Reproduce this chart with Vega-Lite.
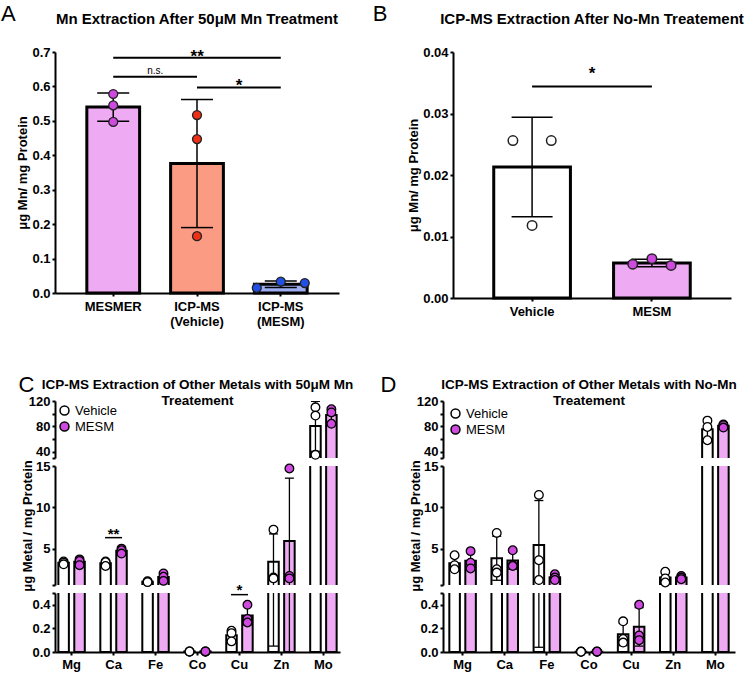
{
"$schema": "https://vega.github.io/schema/vega-lite/v6.json",
"background": "white",
"padding": {"left": 0, "top": 3, "right": 5, "bottom": 3},
"config": {
 "font": "Liberation Sans",
 "view": {"stroke": null},
 "axis": {"labelFont": "Liberation Sans", "labelFontSize": 13, "labelFontWeight": "bold", "labelColor": "black", "titleFont": "Liberation Sans", "titleFontSize": 13, "titleFontWeight": "bold", "titleColor": "black", "domainColor": "black", "domainWidth": 2, "tickColor": "black", "tickWidth": 2, "tickSize": 3, "grid": false, "labelPadding": 2},
 "title": {"font": "Liberation Sans", "fontSize": 15, "fontWeight": "bold", "color": "black"},
 "legend": {"labelFont": "Liberation Sans"}
},
"datasets": {
 "aBars": [
  {"group": "MESMER", "mean": 0.540, "lo": 0.499, "hi": 0.581},
  {"group": "ICP-MS (Vehicle)", "mean": 0.376, "lo": 0.190, "hi": 0.562},
  {"group": "ICP-MS (MESM)", "mean": 0.0257, "lo": 0.0162, "hi": 0.0351}
 ],
 "aPts": [
  {"group": "MESMER", "rep": 1, "value": 0.578}, {"group": "MESMER", "rep": 2, "value": 0.545}, {"group": "MESMER", "rep": 3, "value": 0.497},
  {"group": "ICP-MS (Vehicle)", "rep": 1, "value": 0.517}, {"group": "ICP-MS (Vehicle)", "rep": 2, "value": 0.447}, {"group": "ICP-MS (Vehicle)", "rep": 3, "value": 0.165},
  {"group": "ICP-MS (MESM)", "rep": 1, "value": 0.015}, {"group": "ICP-MS (MESM)", "rep": 2, "value": 0.033}, {"group": "ICP-MS (MESM)", "rep": 3, "value": 0.029}
 ],
 "aSig": [
  {"from": "MESMER", "to": "ICP-MS (MESM)", "y": 0.683, "label": "**"},
  {"from": "MESMER", "to": "ICP-MS (Vehicle)", "y": 0.628, "label": "n.s."},
  {"from": "ICP-MS (Vehicle)", "to": "ICP-MS (MESM)", "y": 0.597, "label": "*"}
 ],
 "bBars": [
  {"group": "Vehicle", "mean": 0.0213, "lo": 0.0132, "hi": 0.0294},
  {"group": "MESM", "mean": 0.0057, "lo": 0.0051, "hi": 0.0063}
 ],
 "bPts": [
  {"group": "Vehicle", "rep": 1, "value": 0.0256}, {"group": "Vehicle", "rep": 2, "value": 0.0118}, {"group": "Vehicle", "rep": 3, "value": 0.0256},
  {"group": "MESM", "rep": 1, "value": 0.0055}, {"group": "MESM", "rep": 2, "value": 0.0064}, {"group": "MESM", "rep": 3, "value": 0.0053}
 ],
 "bSig": [{"from": "Vehicle", "to": "MESM", "y": 0.0344, "label": "*"}],
 "cBars": [
  {"metal": "Mg", "group": "Vehicle", "mean": 3.28, "lo": 3.10, "hi": 3.46},
  {"metal": "Mg", "group": "MESM", "mean": 3.40, "lo": 3.04, "hi": 3.76},
  {"metal": "Ca", "group": "Vehicle", "mean": 3.23, "lo": 2.94, "hi": 3.52},
  {"metal": "Ca", "group": "MESM", "mean": 4.73, "lo": 4.43, "hi": 5.04},
  {"metal": "Fe", "group": "Vehicle", "mean": 1.00, "lo": 0.95, "hi": 1.05},
  {"metal": "Fe", "group": "MESM", "mean": 1.57, "lo": 1.12, "hi": 2.02},
  {"metal": "Co", "group": "Vehicle", "mean": 0.004, "lo": 0.003, "hi": 0.005},
  {"metal": "Co", "group": "MESM", "mean": 0.004, "lo": 0.003, "hi": 0.005},
  {"metal": "Cu", "group": "Vehicle", "mean": 0.143, "lo": 0.096, "hi": 0.190},
  {"metal": "Cu", "group": "MESM", "mean": 0.310, "lo": 0.231, "hi": 0.389},
  {"metal": "Zn", "group": "Vehicle", "mean": 3.40, "lo": 0.05, "hi": 6.78},
  {"metal": "Zn", "group": "MESM", "mean": 5.93, "lo": -1.67, "hi": 13.53},
  {"metal": "Mo", "group": "Vehicle", "mean": 80.7, "lo": 40.6, "hi": 119.5},
  {"metal": "Mo", "group": "MESM", "mean": 97.7, "lo": 85.6, "hi": 109.8}
 ],
 "cPts": [
  {"metal": "Mg", "group": "Vehicle", "value": 3.45}, {"metal": "Mg", "group": "Vehicle", "value": 3.3}, {"metal": "Mg", "group": "Vehicle", "value": 3.1},
  {"metal": "Mg", "group": "MESM", "value": 3.7}, {"metal": "Mg", "group": "MESM", "value": 3.5}, {"metal": "Mg", "group": "MESM", "value": 3.0},
  {"metal": "Ca", "group": "Vehicle", "value": 3.45}, {"metal": "Ca", "group": "Vehicle", "value": 3.35}, {"metal": "Ca", "group": "Vehicle", "value": 2.9},
  {"metal": "Ca", "group": "MESM", "value": 5.0}, {"metal": "Ca", "group": "MESM", "value": 4.8}, {"metal": "Ca", "group": "MESM", "value": 4.4},
  {"metal": "Fe", "group": "Vehicle", "value": 1.05}, {"metal": "Fe", "group": "Vehicle", "value": 1.0}, {"metal": "Fe", "group": "Vehicle", "value": 0.95},
  {"metal": "Fe", "group": "MESM", "value": 2.0}, {"metal": "Fe", "group": "MESM", "value": 1.6}, {"metal": "Fe", "group": "MESM", "value": 1.1},
  {"metal": "Co", "group": "Vehicle", "value": 0.004}, {"metal": "Co", "group": "Vehicle", "value": 0.003}, {"metal": "Co", "group": "Vehicle", "value": 0.004},
  {"metal": "Co", "group": "MESM", "value": 0.003}, {"metal": "Co", "group": "MESM", "value": 0.004}, {"metal": "Co", "group": "MESM", "value": 0.005},
  {"metal": "Cu", "group": "Vehicle", "value": 0.18}, {"metal": "Cu", "group": "Vehicle", "value": 0.16}, {"metal": "Cu", "group": "Vehicle", "value": 0.09},
  {"metal": "Cu", "group": "MESM", "value": 0.40}, {"metal": "Cu", "group": "MESM", "value": 0.28}, {"metal": "Cu", "group": "MESM", "value": 0.25},
  {"metal": "Zn", "group": "Vehicle", "value": 7.3}, {"metal": "Zn", "group": "Vehicle", "value": 1.5}, {"metal": "Zn", "group": "Vehicle", "value": 1.4},
  {"metal": "Zn", "group": "MESM", "value": 14.7}, {"metal": "Zn", "group": "MESM", "value": 1.7}, {"metal": "Zn", "group": "MESM", "value": 1.4},
  {"metal": "Mo", "group": "Vehicle", "value": 110}, {"metal": "Mo", "group": "Vehicle", "value": 97}, {"metal": "Mo", "group": "Vehicle", "value": 35},
  {"metal": "Mo", "group": "MESM", "value": 107}, {"metal": "Mo", "group": "MESM", "value": 102}, {"metal": "Mo", "group": "MESM", "value": 84}
 ],
 "cSigMid": [{"metal": "Ca", "y": 6.33, "label": "**"}],
 "cSigBot": [{"metal": "Cu", "y": 0.486, "label": "*"}],
 "dBars": [
  {"metal": "Mg", "group": "Vehicle", "mean": 3.23, "lo": 2.36, "hi": 4.10},
  {"metal": "Mg", "group": "MESM", "mean": 3.53, "lo": 2.46, "hi": 4.60},
  {"metal": "Ca", "group": "Vehicle", "mean": 3.83, "lo": 1.17, "hi": 6.50},
  {"metal": "Ca", "group": "MESM", "mean": 3.57, "lo": 2.50, "hi": 4.64},
  {"metal": "Fe", "group": "Vehicle", "mean": 5.43, "lo": 0.04, "hi": 10.82},
  {"metal": "Fe", "group": "MESM", "mean": 1.53, "lo": 1.18, "hi": 1.88},
  {"metal": "Co", "group": "Vehicle", "mean": 0.003, "lo": 0.002, "hi": 0.004},
  {"metal": "Co", "group": "MESM", "mean": 0.003, "lo": 0.003, "hi": 0.004},
  {"metal": "Cu", "group": "Vehicle", "mean": 0.150, "lo": 0.054, "hi": 0.246},
  {"metal": "Cu", "group": "MESM", "mean": 0.213, "lo": 0.050, "hi": 0.376},
  {"metal": "Zn", "group": "Vehicle", "mean": 1.50, "lo": 0.84, "hi": 2.16},
  {"metal": "Zn", "group": "MESM", "mean": 1.50, "lo": 1.30, "hi": 1.70},
  {"metal": "Mo", "group": "Vehicle", "mean": 75.3, "lo": 59.5, "hi": 91.1},
  {"metal": "Mo", "group": "MESM", "mean": 81.0, "lo": 78.4, "hi": 83.6}
 ],
 "dPts": [
  {"metal": "Mg", "group": "Vehicle", "value": 4.2}, {"metal": "Mg", "group": "Vehicle", "value": 3.0}, {"metal": "Mg", "group": "Vehicle", "value": 2.5},
  {"metal": "Mg", "group": "MESM", "value": 4.7}, {"metal": "Mg", "group": "MESM", "value": 3.3}, {"metal": "Mg", "group": "MESM", "value": 2.6},
  {"metal": "Ca", "group": "Vehicle", "value": 6.9}, {"metal": "Ca", "group": "Vehicle", "value": 2.5}, {"metal": "Ca", "group": "Vehicle", "value": 2.1},
  {"metal": "Ca", "group": "MESM", "value": 4.8}, {"metal": "Ca", "group": "MESM", "value": 3.0}, {"metal": "Ca", "group": "MESM", "value": 2.9},
  {"metal": "Fe", "group": "Vehicle", "value": 11.5}, {"metal": "Fe", "group": "Vehicle", "value": 3.6}, {"metal": "Fe", "group": "Vehicle", "value": 1.2},
  {"metal": "Fe", "group": "MESM", "value": 1.9}, {"metal": "Fe", "group": "MESM", "value": 1.5}, {"metal": "Fe", "group": "MESM", "value": 1.2},
  {"metal": "Co", "group": "Vehicle", "value": 0.004}, {"metal": "Co", "group": "Vehicle", "value": 0.003}, {"metal": "Co", "group": "Vehicle", "value": 0.002},
  {"metal": "Co", "group": "MESM", "value": 0.003}, {"metal": "Co", "group": "MESM", "value": 0.003}, {"metal": "Co", "group": "MESM", "value": 0.004},
  {"metal": "Cu", "group": "Vehicle", "value": 0.26}, {"metal": "Cu", "group": "Vehicle", "value": 0.11}, {"metal": "Cu", "group": "Vehicle", "value": 0.08},
  {"metal": "Cu", "group": "MESM", "value": 0.40}, {"metal": "Cu", "group": "MESM", "value": 0.14}, {"metal": "Cu", "group": "MESM", "value": 0.10},
  {"metal": "Zn", "group": "Vehicle", "value": 2.2}, {"metal": "Zn", "group": "Vehicle", "value": 1.4}, {"metal": "Zn", "group": "Vehicle", "value": 0.9},
  {"metal": "Zn", "group": "MESM", "value": 1.7}, {"metal": "Zn", "group": "MESM", "value": 1.5}, {"metal": "Zn", "group": "MESM", "value": 1.3},
  {"metal": "Mo", "group": "Vehicle", "value": 89}, {"metal": "Mo", "group": "Vehicle", "value": 79}, {"metal": "Mo", "group": "Vehicle", "value": 58},
  {"metal": "Mo", "group": "MESM", "value": 83}, {"metal": "Mo", "group": "MESM", "value": 82}, {"metal": "Mo", "group": "MESM", "value": 78}
 ]
},
"spacing": 45,
"resolve": {"scale": {"color": "independent", "fill": "independent"}, "legend": {"color": "independent", "fill": "independent"}},
"vconcat": [
 {
  "hconcat": [
   {
    "title": {"text": "A", "anchor": "start", "frame": "bounds", "fontSize": 22, "fontWeight": "normal", "offset": -14, "dx": -16},
    "vconcat": [{
     "width": 284, "height": 241,
     "title": {"text": "Mn Extraction After 50μM Mn Treatment", "offset": 19},
     "resolve": {"scale": {"xOffset": "independent"}},
     "layer": [
      {"data": {"name": "aBars"}, "mark": {"type": "bar", "stroke": "black", "strokeWidth": 3, "width": {"band": 1}},
       "encoding": {
        "x": {"field": "group", "type": "nominal", "scale": {"domain": ["MESMER", "ICP-MS (Vehicle)", "ICP-MS (MESM)"], "paddingInner": 0.37, "paddingOuter": 0.38}, "axis": {"title": null, "labelAngle": 0, "labelExpr": "split(datum.label, ' ')", "labelPadding": 4, "labelLineHeight": 15}},
        "y": {"field": "mean", "type": "quantitative", "scale": {"domain": [0, 0.7], "nice": false}, "axis": {"values": [0, 0.1, 0.2, 0.3, 0.4, 0.5, 0.6, 0.7], "format": ".1f", "title": "μg Mn/ mg Protein", "titlePadding": 2}},
        "color": {"field": "group", "type": "nominal", "scale": {"domain": ["MESMER", "ICP-MS (Vehicle)", "ICP-MS (MESM)"], "range": ["#EEAAF3", "#FC9B84", "#9DAEF2"]}, "legend": null}
       }},
      {"data": {"name": "aBars"}, "mark": {"type": "rule", "color": "black", "strokeWidth": 1.5},
       "encoding": {
        "x": {"field": "group", "type": "nominal", "scale": {"domain": ["MESMER", "ICP-MS (Vehicle)", "ICP-MS (MESM)"], "paddingInner": 0.37, "paddingOuter": 0.38}, "axis": {"title": null, "labelAngle": 0, "labelExpr": "split(datum.label, ' ')", "labelPadding": 4, "labelLineHeight": 15}},
        "y": {"field": "lo", "type": "quantitative", "scale": {"domain": [0, 0.7], "nice": false}, "axis": {"values": [0, 0.1, 0.2, 0.3, 0.4, 0.5, 0.6, 0.7], "format": ".1f", "title": "μg Mn/ mg Protein", "titlePadding": 2}},
        "y2": {"field": "hi"}
       }},
      {"data": {"name": "aBars"}, "mark": {"type": "tick", "color": "black", "thickness": 1.5, "size": 32, "opacity": 1},
       "encoding": {
        "x": {"field": "group", "type": "nominal", "scale": {"domain": ["MESMER", "ICP-MS (Vehicle)", "ICP-MS (MESM)"], "paddingInner": 0.37, "paddingOuter": 0.38}, "axis": {"title": null, "labelAngle": 0, "labelExpr": "split(datum.label, ' ')", "labelPadding": 4, "labelLineHeight": 15}},
        "y": {"field": "lo", "type": "quantitative", "scale": {"domain": [0, 0.7], "nice": false}, "axis": {"values": [0, 0.1, 0.2, 0.3, 0.4, 0.5, 0.6, 0.7], "format": ".1f", "title": "μg Mn/ mg Protein", "titlePadding": 2}}
       }},
      {"data": {"name": "aBars"}, "mark": {"type": "tick", "color": "black", "thickness": 1.5, "size": 32, "opacity": 1},
       "encoding": {
        "x": {"field": "group", "type": "nominal", "scale": {"domain": ["MESMER", "ICP-MS (Vehicle)", "ICP-MS (MESM)"], "paddingInner": 0.37, "paddingOuter": 0.38}, "axis": {"title": null, "labelAngle": 0, "labelExpr": "split(datum.label, ' ')", "labelPadding": 4, "labelLineHeight": 15}},
        "y": {"field": "hi", "type": "quantitative", "scale": {"domain": [0, 0.7], "nice": false}, "axis": {"values": [0, 0.1, 0.2, 0.3, 0.4, 0.5, 0.6, 0.7], "format": ".1f", "title": "μg Mn/ mg Protein", "titlePadding": 2}}
       }},
      {"data": {"name": "aPts"}, "transform": [{"filter": "datum.group != 'ICP-MS (MESM)'"}], "mark": {"type": "circle", "size": 80, "stroke": "#222222", "strokeWidth": 1.3, "opacity": 1},
       "encoding": {
        "x": {"field": "group", "type": "nominal", "scale": {"domain": ["MESMER", "ICP-MS (Vehicle)", "ICP-MS (MESM)"], "paddingInner": 0.37, "paddingOuter": 0.38}, "axis": {"title": null, "labelAngle": 0, "labelExpr": "split(datum.label, ' ')", "labelPadding": 4, "labelLineHeight": 15}},
        "y": {"field": "value", "type": "quantitative", "scale": {"domain": [0, 0.7], "nice": false}, "axis": {"values": [0, 0.1, 0.2, 0.3, 0.4, 0.5, 0.6, 0.7], "format": ".1f", "title": "μg Mn/ mg Protein", "titlePadding": 2}},
        "fill": {"field": "group", "type": "nominal", "scale": {"domain": ["MESMER", "ICP-MS (Vehicle)", "ICP-MS (MESM)"], "range": ["#CF4ADF", "#EE3018", "#2150E6"]}, "legend": null}
       }},
      {"data": {"name": "aPts"}, "transform": [{"filter": "datum.group == 'ICP-MS (MESM)'"}], "mark": {"type": "circle", "size": 80, "stroke": "#222222", "strokeWidth": 1.3, "opacity": 1},
       "encoding": {
        "x": {"field": "group", "type": "nominal", "scale": {"domain": ["MESMER", "ICP-MS (Vehicle)", "ICP-MS (MESM)"], "paddingInner": 0.37, "paddingOuter": 0.38}, "axis": {"title": null, "labelAngle": 0, "labelExpr": "split(datum.label, ' ')", "labelPadding": 4, "labelLineHeight": 15}},
        "xOffset": {"field": "rep", "type": "nominal", "scale": {"type": "point", "padding": 0.1}},
        "y": {"field": "value", "type": "quantitative", "scale": {"domain": [0, 0.7], "nice": false}, "axis": {"values": [0, 0.1, 0.2, 0.3, 0.4, 0.5, 0.6, 0.7], "format": ".1f", "title": "μg Mn/ mg Protein", "titlePadding": 2}},
        "fill": {"field": "group", "type": "nominal", "scale": {"domain": ["MESMER", "ICP-MS (Vehicle)", "ICP-MS (MESM)"], "range": ["#CF4ADF", "#EE3018", "#2150E6"]}, "legend": null}
       }},
      {"data": {"name": "aSig"}, "mark": {"type": "rule", "color": "black", "strokeWidth": 2},
       "encoding": {
        "x": {"field": "from", "type": "nominal", "scale": {"domain": ["MESMER", "ICP-MS (Vehicle)", "ICP-MS (MESM)"], "paddingInner": 0.37, "paddingOuter": 0.38}, "axis": {"title": null, "labelAngle": 0, "labelExpr": "split(datum.label, ' ')", "labelPadding": 4, "labelLineHeight": 15}},
        "x2": {"field": "to"},
        "y": {"field": "y", "type": "quantitative", "scale": {"domain": [0, 0.7], "nice": false}, "axis": {"values": [0, 0.1, 0.2, 0.3, 0.4, 0.5, 0.6, 0.7], "format": ".1f", "title": "μg Mn/ mg Protein", "titlePadding": 2}}
       }},
      {"data": {"name": "aSig"}, "transform": [{"filter": "datum.label == '**'"}], "mark": {"type": "text", "fontSize": 17, "fontWeight": "bold", "baseline": "alphabetic", "dx": 84, "dy": 4},
       "encoding": {
        "x": {"field": "from", "type": "nominal", "scale": {"domain": ["MESMER", "ICP-MS (Vehicle)", "ICP-MS (MESM)"], "paddingInner": 0.37, "paddingOuter": 0.38}, "axis": {"title": null, "labelAngle": 0, "labelExpr": "split(datum.label, ' ')", "labelPadding": 4, "labelLineHeight": 15}},
        "y": {"field": "y", "type": "quantitative", "scale": {"domain": [0, 0.7], "nice": false}, "axis": {"values": [0, 0.1, 0.2, 0.3, 0.4, 0.5, 0.6, 0.7], "format": ".1f", "title": "μg Mn/ mg Protein", "titlePadding": 2}},
        "text": {"field": "label"}
       }},
      {"data": {"name": "aSig"}, "transform": [{"filter": "datum.label == '*'"}], "mark": {"type": "text", "fontSize": 17, "fontWeight": "bold", "baseline": "alphabetic", "dx": 42, "dy": 4},
       "encoding": {
        "x": {"field": "from", "type": "nominal", "scale": {"domain": ["MESMER", "ICP-MS (Vehicle)", "ICP-MS (MESM)"], "paddingInner": 0.37, "paddingOuter": 0.38}, "axis": {"title": null, "labelAngle": 0, "labelExpr": "split(datum.label, ' ')", "labelPadding": 4, "labelLineHeight": 15}},
        "y": {"field": "y", "type": "quantitative", "scale": {"domain": [0, 0.7], "nice": false}, "axis": {"values": [0, 0.1, 0.2, 0.3, 0.4, 0.5, 0.6, 0.7], "format": ".1f", "title": "μg Mn/ mg Protein", "titlePadding": 2}},
        "text": {"field": "label"}
       }},
      {"data": {"name": "aSig"}, "transform": [{"filter": "datum.label == 'n.s.'"}], "mark": {"type": "text", "fontSize": 10, "baseline": "alphabetic", "dx": 42, "dy": -3},
       "encoding": {
        "x": {"field": "from", "type": "nominal", "scale": {"domain": ["MESMER", "ICP-MS (Vehicle)", "ICP-MS (MESM)"], "paddingInner": 0.37, "paddingOuter": 0.38}, "axis": {"title": null, "labelAngle": 0, "labelExpr": "split(datum.label, ' ')", "labelPadding": 4, "labelLineHeight": 15}},
        "y": {"field": "y", "type": "quantitative", "scale": {"domain": [0, 0.7], "nice": false}, "axis": {"values": [0, 0.1, 0.2, 0.3, 0.4, 0.5, 0.6, 0.7], "format": ".1f", "title": "μg Mn/ mg Protein", "titlePadding": 2}},
        "text": {"field": "label"}
       }}
     ]
    }]
   },
   {
    "title": {"text": "B", "anchor": "start", "frame": "bounds", "fontSize": 22, "fontWeight": "normal", "offset": -14, "dx": -35},
    "vconcat": [{
     "width": 278, "height": 246,
     "title": {"text": "ICP-MS Extraction After No-Mn Treatement", "offset": 19},
     "resolve": {"scale": {"xOffset": "independent"}},
     "layer": [
      {"data": {"name": "bBars"}, "mark": {"type": "bar", "stroke": "black", "strokeWidth": 3, "width": {"band": 1}},
       "encoding": {
        "x": {"field": "group", "type": "nominal", "scale": {"domain": ["Vehicle", "MESM"], "paddingInner": 0.36, "paddingOuter": 0.34}, "axis": {"title": null, "labelAngle": 0, "labelPadding": 4}},
        "y": {"field": "mean", "type": "quantitative", "scale": {"domain": [0, 0.04], "nice": false}, "axis": {"values": [0, 0.01, 0.02, 0.03, 0.04], "format": ".2f", "title": "μg Mn/ mg Protein", "titlePadding": 2}},
        "color": {"field": "group", "type": "nominal", "scale": {"domain": ["Vehicle", "MESM"], "range": ["white", "#EEAAF3"]}, "legend": null}
       }},
      {"data": {"name": "bBars"}, "mark": {"type": "rule", "color": "black", "strokeWidth": 1.5},
       "encoding": {
        "x": {"field": "group", "type": "nominal", "scale": {"domain": ["Vehicle", "MESM"], "paddingInner": 0.36, "paddingOuter": 0.34}, "axis": {"title": null, "labelAngle": 0, "labelPadding": 4}},
        "y": {"field": "lo", "type": "quantitative", "scale": {"domain": [0, 0.04], "nice": false}, "axis": {"values": [0, 0.01, 0.02, 0.03, 0.04], "format": ".2f", "title": "μg Mn/ mg Protein", "titlePadding": 2}},
        "y2": {"field": "hi"}
       }},
      {"data": {"name": "bBars"}, "mark": {"type": "tick", "color": "black", "thickness": 1.5, "size": 41, "opacity": 1},
       "encoding": {
        "x": {"field": "group", "type": "nominal", "scale": {"domain": ["Vehicle", "MESM"], "paddingInner": 0.36, "paddingOuter": 0.34}, "axis": {"title": null, "labelAngle": 0, "labelPadding": 4}},
        "y": {"field": "lo", "type": "quantitative", "scale": {"domain": [0, 0.04], "nice": false}, "axis": {"values": [0, 0.01, 0.02, 0.03, 0.04], "format": ".2f", "title": "μg Mn/ mg Protein", "titlePadding": 2}}
       }},
      {"data": {"name": "bBars"}, "mark": {"type": "tick", "color": "black", "thickness": 1.5, "size": 41, "opacity": 1},
       "encoding": {
        "x": {"field": "group", "type": "nominal", "scale": {"domain": ["Vehicle", "MESM"], "paddingInner": 0.36, "paddingOuter": 0.34}, "axis": {"title": null, "labelAngle": 0, "labelPadding": 4}},
        "y": {"field": "hi", "type": "quantitative", "scale": {"domain": [0, 0.04], "nice": false}, "axis": {"values": [0, 0.01, 0.02, 0.03, 0.04], "format": ".2f", "title": "μg Mn/ mg Protein", "titlePadding": 2}}
       }},
      {"data": {"name": "bPts"}, "mark": {"type": "circle", "size": 90, "stroke": "#222222", "strokeWidth": 1.5, "opacity": 1},
       "encoding": {
        "x": {"field": "group", "type": "nominal", "scale": {"domain": ["Vehicle", "MESM"], "paddingInner": 0.36, "paddingOuter": 0.34}, "axis": {"title": null, "labelAngle": 0, "labelPadding": 4}},
        "xOffset": {"field": "rep", "type": "nominal", "scale": {"type": "point", "padding": 1.5}},
        "y": {"field": "value", "type": "quantitative", "scale": {"domain": [0, 0.04], "nice": false}, "axis": {"values": [0, 0.01, 0.02, 0.03, 0.04], "format": ".2f", "title": "μg Mn/ mg Protein", "titlePadding": 2}},
        "fill": {"field": "group", "type": "nominal", "scale": {"domain": ["Vehicle", "MESM"], "range": ["white", "#CF4ADF"]}, "legend": null}
       }},
      {"data": {"name": "bSig"}, "mark": {"type": "rule", "color": "black", "strokeWidth": 2},
       "encoding": {
        "x": {"field": "from", "type": "nominal", "scale": {"domain": ["Vehicle", "MESM"], "paddingInner": 0.36, "paddingOuter": 0.34}, "axis": {"title": null, "labelAngle": 0, "labelPadding": 4}},
        "x2": {"field": "to"},
        "y": {"field": "y", "type": "quantitative", "scale": {"domain": [0, 0.04], "nice": false}, "axis": {"values": [0, 0.01, 0.02, 0.03, 0.04], "format": ".2f", "title": "μg Mn/ mg Protein", "titlePadding": 2}}
       }},
      {"data": {"name": "bSig"}, "mark": {"type": "text", "fontSize": 17, "fontWeight": "bold", "baseline": "alphabetic", "dx": 60, "dy": -7},
       "encoding": {
        "x": {"field": "from", "type": "nominal", "scale": {"domain": ["Vehicle", "MESM"], "paddingInner": 0.36, "paddingOuter": 0.34}, "axis": {"title": null, "labelAngle": 0, "labelPadding": 4}},
        "y": {"field": "y", "type": "quantitative", "scale": {"domain": [0, 0.04], "nice": false}, "axis": {"values": [0, 0.01, 0.02, 0.03, 0.04], "format": ".2f", "title": "μg Mn/ mg Protein", "titlePadding": 2}},
        "text": {"field": "label"}
       }}
     ]
    }]
   }
  ],
  "spacing": 33,
  "resolve": {"scale": {"color": "independent", "fill": "independent"}, "legend": {"color": "independent", "fill": "independent"}}
 },
 {
  "hconcat": [
   {
    "title": {"text": "C", "anchor": "start", "frame": "bounds", "fontSize": 22, "fontWeight": "normal", "offset": -19, "dx": -3},
    "bounds": "flush",
    "spacing": 8,
    "resolve": {"scale": {"color": "independent", "fill": "independent", "x": "independent", "xOffset": "independent", "y": "independent"}, "legend": {"color": "independent", "fill": "independent"}},
    "vconcat": [
     {
      "width": 285, "height": 57,
      "title": {"text": ["ICP-MS Extraction of Other Metals with 50μM Mn", "Treatement"], "fontSize": 13.5, "lineHeight": 16, "offset": -12},
      "resolve": {"scale": {"fill": "independent"}, "legend": {"fill": "independent"}},
      "layer": [
       {"data": {"name": "cBars"}, "mark": {"type": "bar", "stroke": "black", "strokeWidth": 2, "clip": true},
        "encoding": {
         "x": {"field": "metal", "type": "nominal", "scale": {"domain": ["Mg", "Ca", "Fe", "Co", "Cu", "Zn", "Mo"], "paddingInner": 0.37, "paddingOuter": 0.08}, "axis": null},
         "xOffset": {"field": "group", "type": "nominal", "scale": {"domain": ["Vehicle", "MESM"], "paddingInner": 0.34, "paddingOuter": 0}},
         "y": {"field": "mean", "type": "quantitative", "scale": {"domain": [30, 120], "nice": false, "zero": false}, "axis": {"values": [30, 40, 60, 80, 100, 120], "labelExpr": "datum.value == 30 ? '' : datum.label", "title": null}},
         "y2": {"datum": 0},
         "fill": {"field": "group", "type": "nominal", "scale": {"domain": ["Vehicle", "MESM"], "range": ["white", "#EEAAF3"]}, "legend": null}
        }},
       {"data": {"name": "cBars"}, "mark": {"type": "rule", "color": "black", "strokeWidth": 1.3, "clip": true},
        "encoding": {
         "x": {"field": "metal", "type": "nominal", "scale": {"domain": ["Mg", "Ca", "Fe", "Co", "Cu", "Zn", "Mo"], "paddingInner": 0.37, "paddingOuter": 0.08}, "axis": null},
         "xOffset": {"field": "group", "type": "nominal", "scale": {"domain": ["Vehicle", "MESM"], "paddingInner": 0.34, "paddingOuter": 0}},
         "y": {"field": "lo", "type": "quantitative", "scale": {"domain": [30, 120], "nice": false, "zero": false}, "axis": {"values": [30, 40, 60, 80, 100, 120], "labelExpr": "datum.value == 30 ? '' : datum.label", "title": null}},
         "y2": {"field": "hi"}
        }},
       {"data": {"name": "cBars"}, "mark": {"type": "tick", "color": "black", "thickness": 1.3, "size": 9, "opacity": 1, "clip": true},
        "encoding": {
         "x": {"field": "metal", "type": "nominal", "scale": {"domain": ["Mg", "Ca", "Fe", "Co", "Cu", "Zn", "Mo"], "paddingInner": 0.37, "paddingOuter": 0.08}, "axis": null},
         "xOffset": {"field": "group", "type": "nominal", "scale": {"domain": ["Vehicle", "MESM"], "paddingInner": 0.34, "paddingOuter": 0}},
         "y": {"field": "lo", "type": "quantitative", "scale": {"domain": [30, 120], "nice": false, "zero": false}, "axis": {"values": [30, 40, 60, 80, 100, 120], "labelExpr": "datum.value == 30 ? '' : datum.label", "title": null}}
        }},
       {"data": {"name": "cBars"}, "mark": {"type": "tick", "color": "black", "thickness": 1.3, "size": 9, "opacity": 1, "clip": true},
        "encoding": {
         "x": {"field": "metal", "type": "nominal", "scale": {"domain": ["Mg", "Ca", "Fe", "Co", "Cu", "Zn", "Mo"], "paddingInner": 0.37, "paddingOuter": 0.08}, "axis": null},
         "xOffset": {"field": "group", "type": "nominal", "scale": {"domain": ["Vehicle", "MESM"], "paddingInner": 0.34, "paddingOuter": 0}},
         "y": {"field": "hi", "type": "quantitative", "scale": {"domain": [30, 120], "nice": false, "zero": false}, "axis": {"values": [30, 40, 60, 80, 100, 120], "labelExpr": "datum.value == 30 ? '' : datum.label", "title": null}}
        }},
       {"data": {"name": "cPts"}, "transform": [{"filter": "datum.value >= 30"}], "mark": {"type": "circle", "size": 75, "stroke": "black", "strokeWidth": 1.3, "opacity": 1},
        "encoding": {
         "x": {"field": "metal", "type": "nominal", "scale": {"domain": ["Mg", "Ca", "Fe", "Co", "Cu", "Zn", "Mo"], "paddingInner": 0.37, "paddingOuter": 0.08}, "axis": null},
         "xOffset": {"field": "group", "type": "nominal", "scale": {"domain": ["Vehicle", "MESM"], "paddingInner": 0.34, "paddingOuter": 0}},
         "y": {"field": "value", "type": "quantitative", "scale": {"domain": [30, 120], "nice": false, "zero": false}, "axis": {"values": [30, 40, 60, 80, 100, 120], "labelExpr": "datum.value == 30 ? '' : datum.label", "title": null}},
         "fill": {"field": "group", "type": "nominal", "scale": {"domain": ["Vehicle", "MESM"], "range": ["white", "#CF4ADF"]}, "legend": {"orient": "top-left", "offset": 3, "title": null, "labelFontSize": 13, "labelFontWeight": "normal", "labelColor": "black", "symbolType": "circle", "symbolSize": 80, "symbolStrokeColor": "black", "symbolStrokeWidth": 1.5, "rowPadding": 1}}
        }}
      ]
     },
     {
      "width": 285, "height": 119,
      "layer": [
       {"data": {"name": "cBars"}, "mark": {"type": "bar", "stroke": "black", "strokeWidth": 2, "clip": true},
        "encoding": {
         "x": {"field": "metal", "type": "nominal", "scale": {"domain": ["Mg", "Ca", "Fe", "Co", "Cu", "Zn", "Mo"], "paddingInner": 0.37, "paddingOuter": 0.08}, "axis": null},
         "xOffset": {"field": "group", "type": "nominal", "scale": {"domain": ["Vehicle", "MESM"], "paddingInner": 0.34, "paddingOuter": 0}},
         "y": {"field": "mean", "type": "quantitative", "scale": {"domain": [0.6, 15], "nice": false, "zero": false}, "axis": {"values": [0.6, 5, 10, 15], "labelExpr": "datum.value < 1 ? '' : datum.label", "title": "μg Metal / mg Protein", "titlePadding": 1}},
         "y2": {"datum": 0},
         "color": {"field": "group", "type": "nominal", "scale": {"domain": ["Vehicle", "MESM"], "range": ["white", "#EEAAF3"]}, "legend": null}
        }},
       {"data": {"name": "cBars"}, "mark": {"type": "rule", "color": "black", "strokeWidth": 1.3, "clip": true},
        "encoding": {
         "x": {"field": "metal", "type": "nominal", "scale": {"domain": ["Mg", "Ca", "Fe", "Co", "Cu", "Zn", "Mo"], "paddingInner": 0.37, "paddingOuter": 0.08}, "axis": null},
         "xOffset": {"field": "group", "type": "nominal", "scale": {"domain": ["Vehicle", "MESM"], "paddingInner": 0.34, "paddingOuter": 0}},
         "y": {"field": "lo", "type": "quantitative", "scale": {"domain": [0.6, 15], "nice": false, "zero": false}, "axis": {"values": [0.6, 5, 10, 15], "labelExpr": "datum.value < 1 ? '' : datum.label", "title": "μg Metal / mg Protein", "titlePadding": 1}},
         "y2": {"field": "hi"}
        }},
       {"data": {"name": "cBars"}, "mark": {"type": "tick", "color": "black", "thickness": 1.3, "size": 9, "opacity": 1, "clip": true},
        "encoding": {
         "x": {"field": "metal", "type": "nominal", "scale": {"domain": ["Mg", "Ca", "Fe", "Co", "Cu", "Zn", "Mo"], "paddingInner": 0.37, "paddingOuter": 0.08}, "axis": null},
         "xOffset": {"field": "group", "type": "nominal", "scale": {"domain": ["Vehicle", "MESM"], "paddingInner": 0.34, "paddingOuter": 0}},
         "y": {"field": "lo", "type": "quantitative", "scale": {"domain": [0.6, 15], "nice": false, "zero": false}, "axis": {"values": [0.6, 5, 10, 15], "labelExpr": "datum.value < 1 ? '' : datum.label", "title": "μg Metal / mg Protein", "titlePadding": 1}}
        }},
       {"data": {"name": "cBars"}, "mark": {"type": "tick", "color": "black", "thickness": 1.3, "size": 9, "opacity": 1, "clip": true},
        "encoding": {
         "x": {"field": "metal", "type": "nominal", "scale": {"domain": ["Mg", "Ca", "Fe", "Co", "Cu", "Zn", "Mo"], "paddingInner": 0.37, "paddingOuter": 0.08}, "axis": null},
         "xOffset": {"field": "group", "type": "nominal", "scale": {"domain": ["Vehicle", "MESM"], "paddingInner": 0.34, "paddingOuter": 0}},
         "y": {"field": "hi", "type": "quantitative", "scale": {"domain": [0.6, 15], "nice": false, "zero": false}, "axis": {"values": [0.6, 5, 10, 15], "labelExpr": "datum.value < 1 ? '' : datum.label", "title": "μg Metal / mg Protein", "titlePadding": 1}}
        }},
       {"data": {"name": "cPts"}, "transform": [{"filter": "datum.value >= 0.6 && datum.value <= 15"}], "mark": {"type": "circle", "size": 75, "stroke": "black", "strokeWidth": 1.3, "opacity": 1},
        "encoding": {
         "x": {"field": "metal", "type": "nominal", "scale": {"domain": ["Mg", "Ca", "Fe", "Co", "Cu", "Zn", "Mo"], "paddingInner": 0.37, "paddingOuter": 0.08}, "axis": null},
         "xOffset": {"field": "group", "type": "nominal", "scale": {"domain": ["Vehicle", "MESM"], "paddingInner": 0.34, "paddingOuter": 0}},
         "y": {"field": "value", "type": "quantitative", "scale": {"domain": [0.6, 15], "nice": false, "zero": false}, "axis": {"values": [0.6, 5, 10, 15], "labelExpr": "datum.value < 1 ? '' : datum.label", "title": "μg Metal / mg Protein", "titlePadding": 1}},
         "fill": {"field": "group", "type": "nominal", "scale": {"domain": ["Vehicle", "MESM"], "range": ["white", "#CF4ADF"]}, "legend": null}
        }},
       {"data": {"name": "cSigMid"}, "mark": {"type": "tick", "color": "black", "thickness": 1.5, "size": 17, "opacity": 1},
        "encoding": {
         "x": {"field": "metal", "type": "nominal", "scale": {"domain": ["Mg", "Ca", "Fe", "Co", "Cu", "Zn", "Mo"], "paddingInner": 0.37, "paddingOuter": 0.08}, "axis": null},
         "y": {"field": "y", "type": "quantitative", "scale": {"domain": [0.6, 15], "nice": false, "zero": false}, "axis": {"values": [0.6, 5, 10, 15], "labelExpr": "datum.value < 1 ? '' : datum.label", "title": "μg Metal / mg Protein", "titlePadding": 1}}
        }},
       {"data": {"name": "cSigMid"}, "mark": {"type": "text", "fontSize": 15, "fontWeight": "bold", "baseline": "alphabetic", "dy": 1},
        "encoding": {
         "x": {"field": "metal", "type": "nominal", "scale": {"domain": ["Mg", "Ca", "Fe", "Co", "Cu", "Zn", "Mo"], "paddingInner": 0.37, "paddingOuter": 0.08}, "axis": null},
         "y": {"field": "y", "type": "quantitative", "scale": {"domain": [0.6, 15], "nice": false, "zero": false}, "axis": {"values": [0.6, 5, 10, 15], "labelExpr": "datum.value < 1 ? '' : datum.label", "title": "μg Metal / mg Protein", "titlePadding": 1}},
         "text": {"field": "label"}
        }}
      ]
     },
     {
      "width": 285, "height": 59,
      "layer": [
       {"data": {"name": "cBars"}, "mark": {"type": "bar", "stroke": "black", "strokeWidth": 2, "clip": true},
        "encoding": {
         "x": {"field": "metal", "type": "nominal", "scale": {"domain": ["Mg", "Ca", "Fe", "Co", "Cu", "Zn", "Mo"], "paddingInner": 0.37, "paddingOuter": 0.08}, "axis": {"title": null, "labelAngle": 0, "labelPadding": 3}},
         "xOffset": {"field": "group", "type": "nominal", "scale": {"domain": ["Vehicle", "MESM"], "paddingInner": 0.34, "paddingOuter": 0}},
         "y": {"field": "mean", "type": "quantitative", "scale": {"domain": [0, 0.5], "nice": false}, "axis": {"values": [0, 0.2, 0.4, 0.5], "format": ".1f", "labelExpr": "datum.value == 0.5 ? '' : datum.label", "title": null}},
         "y2": {"datum": 0},
         "color": {"field": "group", "type": "nominal", "scale": {"domain": ["Vehicle", "MESM"], "range": ["white", "#EEAAF3"]}, "legend": null}
        }},
       {"data": {"name": "cBars"}, "mark": {"type": "rule", "color": "black", "strokeWidth": 1.3, "clip": true},
        "encoding": {
         "x": {"field": "metal", "type": "nominal", "scale": {"domain": ["Mg", "Ca", "Fe", "Co", "Cu", "Zn", "Mo"], "paddingInner": 0.37, "paddingOuter": 0.08}, "axis": {"title": null, "labelAngle": 0, "labelPadding": 3}},
         "xOffset": {"field": "group", "type": "nominal", "scale": {"domain": ["Vehicle", "MESM"], "paddingInner": 0.34, "paddingOuter": 0}},
         "y": {"field": "lo", "type": "quantitative", "scale": {"domain": [0, 0.5], "nice": false}, "axis": {"values": [0, 0.2, 0.4, 0.5], "format": ".1f", "labelExpr": "datum.value == 0.5 ? '' : datum.label", "title": null}},
         "y2": {"field": "hi"}
        }},
       {"data": {"name": "cBars"}, "mark": {"type": "tick", "color": "black", "thickness": 1.3, "size": 9, "opacity": 1, "clip": true},
        "encoding": {
         "x": {"field": "metal", "type": "nominal", "scale": {"domain": ["Mg", "Ca", "Fe", "Co", "Cu", "Zn", "Mo"], "paddingInner": 0.37, "paddingOuter": 0.08}, "axis": {"title": null, "labelAngle": 0, "labelPadding": 3}},
         "xOffset": {"field": "group", "type": "nominal", "scale": {"domain": ["Vehicle", "MESM"], "paddingInner": 0.34, "paddingOuter": 0}},
         "y": {"field": "lo", "type": "quantitative", "scale": {"domain": [0, 0.5], "nice": false}, "axis": {"values": [0, 0.2, 0.4, 0.5], "format": ".1f", "labelExpr": "datum.value == 0.5 ? '' : datum.label", "title": null}}
        }},
       {"data": {"name": "cBars"}, "mark": {"type": "tick", "color": "black", "thickness": 1.3, "size": 9, "opacity": 1, "clip": true},
        "encoding": {
         "x": {"field": "metal", "type": "nominal", "scale": {"domain": ["Mg", "Ca", "Fe", "Co", "Cu", "Zn", "Mo"], "paddingInner": 0.37, "paddingOuter": 0.08}, "axis": {"title": null, "labelAngle": 0, "labelPadding": 3}},
         "xOffset": {"field": "group", "type": "nominal", "scale": {"domain": ["Vehicle", "MESM"], "paddingInner": 0.34, "paddingOuter": 0}},
         "y": {"field": "hi", "type": "quantitative", "scale": {"domain": [0, 0.5], "nice": false}, "axis": {"values": [0, 0.2, 0.4, 0.5], "format": ".1f", "labelExpr": "datum.value == 0.5 ? '' : datum.label", "title": null}}
        }},
       {"data": {"name": "cPts"}, "transform": [{"filter": "datum.value <= 0.5"}], "mark": {"type": "circle", "size": 75, "stroke": "black", "strokeWidth": 1.3, "opacity": 1},
        "encoding": {
         "x": {"field": "metal", "type": "nominal", "scale": {"domain": ["Mg", "Ca", "Fe", "Co", "Cu", "Zn", "Mo"], "paddingInner": 0.37, "paddingOuter": 0.08}, "axis": {"title": null, "labelAngle": 0, "labelPadding": 3}},
         "xOffset": {"field": "group", "type": "nominal", "scale": {"domain": ["Vehicle", "MESM"], "paddingInner": 0.34, "paddingOuter": 0}},
         "y": {"field": "value", "type": "quantitative", "scale": {"domain": [0, 0.5], "nice": false}, "axis": {"values": [0, 0.2, 0.4, 0.5], "format": ".1f", "labelExpr": "datum.value == 0.5 ? '' : datum.label", "title": null}},
         "fill": {"field": "group", "type": "nominal", "scale": {"domain": ["Vehicle", "MESM"], "range": ["white", "#CF4ADF"]}, "legend": null}
        }},
       {"data": {"name": "cSigBot"}, "mark": {"type": "tick", "color": "black", "thickness": 1.5, "size": 17, "opacity": 1},
        "encoding": {
         "x": {"field": "metal", "type": "nominal", "scale": {"domain": ["Mg", "Ca", "Fe", "Co", "Cu", "Zn", "Mo"], "paddingInner": 0.37, "paddingOuter": 0.08}, "axis": {"title": null, "labelAngle": 0, "labelPadding": 3}},
         "y": {"field": "y", "type": "quantitative", "scale": {"domain": [0, 0.5], "nice": false}, "axis": {"values": [0, 0.2, 0.4, 0.5], "format": ".1f", "labelExpr": "datum.value == 0.5 ? '' : datum.label", "title": null}}
        }},
       {"data": {"name": "cSigBot"}, "mark": {"type": "text", "fontSize": 15, "fontWeight": "bold", "baseline": "alphabetic", "dy": 0},
        "encoding": {
         "x": {"field": "metal", "type": "nominal", "scale": {"domain": ["Mg", "Ca", "Fe", "Co", "Cu", "Zn", "Mo"], "paddingInner": 0.37, "paddingOuter": 0.08}, "axis": {"title": null, "labelAngle": 0, "labelPadding": 3}},
         "y": {"field": "y", "type": "quantitative", "scale": {"domain": [0, 0.5], "nice": false}, "axis": {"values": [0, 0.2, 0.4, 0.5], "format": ".1f", "labelExpr": "datum.value == 0.5 ? '' : datum.label", "title": null}},
         "text": {"field": "label"}
        }}
      ]
     }
    ]
   },
   {
    "title": {"text": "D", "anchor": "start", "frame": "bounds", "fontSize": 22, "fontWeight": "normal", "offset": -19, "dx": -29},
    "bounds": "flush",
    "spacing": 8,
    "resolve": {"scale": {"color": "independent", "fill": "independent", "x": "independent", "xOffset": "independent", "y": "independent"}, "legend": {"color": "independent", "fill": "independent"}},
    "vconcat": [
     {
      "width": 292, "height": 57,
      "title": {"text": ["ICP-MS Extraction of Other Metals with No-Mn", "Treatement"], "fontSize": 13.5, "lineHeight": 16, "offset": -12},
      "resolve": {"scale": {"fill": "independent"}, "legend": {"fill": "independent"}},
      "layer": [
       {"data": {"name": "dBars"}, "mark": {"type": "bar", "stroke": "black", "strokeWidth": 2, "clip": true},
        "encoding": {
         "x": {"field": "metal", "type": "nominal", "scale": {"domain": ["Mg", "Ca", "Fe", "Co", "Cu", "Zn", "Mo"], "paddingInner": 0.37, "paddingOuter": 0.15}, "axis": null},
         "xOffset": {"field": "group", "type": "nominal", "scale": {"domain": ["Vehicle", "MESM"], "paddingInner": 0.34, "paddingOuter": 0}},
         "y": {"field": "mean", "type": "quantitative", "scale": {"domain": [30, 120], "nice": false, "zero": false}, "axis": {"values": [30, 40, 60, 80, 100, 120], "labelExpr": "datum.value == 30 ? '' : datum.label", "title": null}},
         "y2": {"datum": 0},
         "fill": {"field": "group", "type": "nominal", "scale": {"domain": ["Vehicle", "MESM"], "range": ["white", "#EEAAF3"]}, "legend": null}
        }},
       {"data": {"name": "dBars"}, "mark": {"type": "rule", "color": "black", "strokeWidth": 1.3, "clip": true},
        "encoding": {
         "x": {"field": "metal", "type": "nominal", "scale": {"domain": ["Mg", "Ca", "Fe", "Co", "Cu", "Zn", "Mo"], "paddingInner": 0.37, "paddingOuter": 0.15}, "axis": null},
         "xOffset": {"field": "group", "type": "nominal", "scale": {"domain": ["Vehicle", "MESM"], "paddingInner": 0.34, "paddingOuter": 0}},
         "y": {"field": "lo", "type": "quantitative", "scale": {"domain": [30, 120], "nice": false, "zero": false}, "axis": {"values": [30, 40, 60, 80, 100, 120], "labelExpr": "datum.value == 30 ? '' : datum.label", "title": null}},
         "y2": {"field": "hi"}
        }},
       {"data": {"name": "dBars"}, "mark": {"type": "tick", "color": "black", "thickness": 1.3, "size": 9, "opacity": 1, "clip": true},
        "encoding": {
         "x": {"field": "metal", "type": "nominal", "scale": {"domain": ["Mg", "Ca", "Fe", "Co", "Cu", "Zn", "Mo"], "paddingInner": 0.37, "paddingOuter": 0.15}, "axis": null},
         "xOffset": {"field": "group", "type": "nominal", "scale": {"domain": ["Vehicle", "MESM"], "paddingInner": 0.34, "paddingOuter": 0}},
         "y": {"field": "lo", "type": "quantitative", "scale": {"domain": [30, 120], "nice": false, "zero": false}, "axis": {"values": [30, 40, 60, 80, 100, 120], "labelExpr": "datum.value == 30 ? '' : datum.label", "title": null}}
        }},
       {"data": {"name": "dBars"}, "mark": {"type": "tick", "color": "black", "thickness": 1.3, "size": 9, "opacity": 1, "clip": true},
        "encoding": {
         "x": {"field": "metal", "type": "nominal", "scale": {"domain": ["Mg", "Ca", "Fe", "Co", "Cu", "Zn", "Mo"], "paddingInner": 0.37, "paddingOuter": 0.15}, "axis": null},
         "xOffset": {"field": "group", "type": "nominal", "scale": {"domain": ["Vehicle", "MESM"], "paddingInner": 0.34, "paddingOuter": 0}},
         "y": {"field": "hi", "type": "quantitative", "scale": {"domain": [30, 120], "nice": false, "zero": false}, "axis": {"values": [30, 40, 60, 80, 100, 120], "labelExpr": "datum.value == 30 ? '' : datum.label", "title": null}}
        }},
       {"data": {"name": "dPts"}, "transform": [{"filter": "datum.value >= 30"}], "mark": {"type": "circle", "size": 75, "stroke": "black", "strokeWidth": 1.3, "opacity": 1},
        "encoding": {
         "x": {"field": "metal", "type": "nominal", "scale": {"domain": ["Mg", "Ca", "Fe", "Co", "Cu", "Zn", "Mo"], "paddingInner": 0.37, "paddingOuter": 0.15}, "axis": null},
         "xOffset": {"field": "group", "type": "nominal", "scale": {"domain": ["Vehicle", "MESM"], "paddingInner": 0.34, "paddingOuter": 0}},
         "y": {"field": "value", "type": "quantitative", "scale": {"domain": [30, 120], "nice": false, "zero": false}, "axis": {"values": [30, 40, 60, 80, 100, 120], "labelExpr": "datum.value == 30 ? '' : datum.label", "title": null}},
         "fill": {"field": "group", "type": "nominal", "scale": {"domain": ["Vehicle", "MESM"], "range": ["white", "#CF4ADF"]}, "legend": {"orient": "top-left", "offset": 6, "title": null, "labelFontSize": 13, "labelFontWeight": "normal", "labelColor": "black", "symbolType": "circle", "symbolSize": 80, "symbolStrokeColor": "black", "symbolStrokeWidth": 1.5, "rowPadding": 1}}
        }}
      ]
     },
     {
      "width": 292, "height": 119,
      "layer": [
       {"data": {"name": "dBars"}, "mark": {"type": "bar", "stroke": "black", "strokeWidth": 2, "clip": true},
        "encoding": {
         "x": {"field": "metal", "type": "nominal", "scale": {"domain": ["Mg", "Ca", "Fe", "Co", "Cu", "Zn", "Mo"], "paddingInner": 0.37, "paddingOuter": 0.15}, "axis": null},
         "xOffset": {"field": "group", "type": "nominal", "scale": {"domain": ["Vehicle", "MESM"], "paddingInner": 0.34, "paddingOuter": 0}},
         "y": {"field": "mean", "type": "quantitative", "scale": {"domain": [0.6, 15], "nice": false, "zero": false}, "axis": {"values": [0.6, 5, 10, 15], "labelExpr": "datum.value < 1 ? '' : datum.label", "title": "μg Metal / mg Protein", "titlePadding": 1}},
         "y2": {"datum": 0},
         "color": {"field": "group", "type": "nominal", "scale": {"domain": ["Vehicle", "MESM"], "range": ["white", "#EEAAF3"]}, "legend": null}
        }},
       {"data": {"name": "dBars"}, "mark": {"type": "rule", "color": "black", "strokeWidth": 1.3, "clip": true},
        "encoding": {
         "x": {"field": "metal", "type": "nominal", "scale": {"domain": ["Mg", "Ca", "Fe", "Co", "Cu", "Zn", "Mo"], "paddingInner": 0.37, "paddingOuter": 0.15}, "axis": null},
         "xOffset": {"field": "group", "type": "nominal", "scale": {"domain": ["Vehicle", "MESM"], "paddingInner": 0.34, "paddingOuter": 0}},
         "y": {"field": "lo", "type": "quantitative", "scale": {"domain": [0.6, 15], "nice": false, "zero": false}, "axis": {"values": [0.6, 5, 10, 15], "labelExpr": "datum.value < 1 ? '' : datum.label", "title": "μg Metal / mg Protein", "titlePadding": 1}},
         "y2": {"field": "hi"}
        }},
       {"data": {"name": "dBars"}, "mark": {"type": "tick", "color": "black", "thickness": 1.3, "size": 9, "opacity": 1, "clip": true},
        "encoding": {
         "x": {"field": "metal", "type": "nominal", "scale": {"domain": ["Mg", "Ca", "Fe", "Co", "Cu", "Zn", "Mo"], "paddingInner": 0.37, "paddingOuter": 0.15}, "axis": null},
         "xOffset": {"field": "group", "type": "nominal", "scale": {"domain": ["Vehicle", "MESM"], "paddingInner": 0.34, "paddingOuter": 0}},
         "y": {"field": "lo", "type": "quantitative", "scale": {"domain": [0.6, 15], "nice": false, "zero": false}, "axis": {"values": [0.6, 5, 10, 15], "labelExpr": "datum.value < 1 ? '' : datum.label", "title": "μg Metal / mg Protein", "titlePadding": 1}}
        }},
       {"data": {"name": "dBars"}, "mark": {"type": "tick", "color": "black", "thickness": 1.3, "size": 9, "opacity": 1, "clip": true},
        "encoding": {
         "x": {"field": "metal", "type": "nominal", "scale": {"domain": ["Mg", "Ca", "Fe", "Co", "Cu", "Zn", "Mo"], "paddingInner": 0.37, "paddingOuter": 0.15}, "axis": null},
         "xOffset": {"field": "group", "type": "nominal", "scale": {"domain": ["Vehicle", "MESM"], "paddingInner": 0.34, "paddingOuter": 0}},
         "y": {"field": "hi", "type": "quantitative", "scale": {"domain": [0.6, 15], "nice": false, "zero": false}, "axis": {"values": [0.6, 5, 10, 15], "labelExpr": "datum.value < 1 ? '' : datum.label", "title": "μg Metal / mg Protein", "titlePadding": 1}}
        }},
       {"data": {"name": "dPts"}, "transform": [{"filter": "datum.value >= 0.6 && datum.value <= 15"}], "mark": {"type": "circle", "size": 75, "stroke": "black", "strokeWidth": 1.3, "opacity": 1},
        "encoding": {
         "x": {"field": "metal", "type": "nominal", "scale": {"domain": ["Mg", "Ca", "Fe", "Co", "Cu", "Zn", "Mo"], "paddingInner": 0.37, "paddingOuter": 0.15}, "axis": null},
         "xOffset": {"field": "group", "type": "nominal", "scale": {"domain": ["Vehicle", "MESM"], "paddingInner": 0.34, "paddingOuter": 0}},
         "y": {"field": "value", "type": "quantitative", "scale": {"domain": [0.6, 15], "nice": false, "zero": false}, "axis": {"values": [0.6, 5, 10, 15], "labelExpr": "datum.value < 1 ? '' : datum.label", "title": "μg Metal / mg Protein", "titlePadding": 1}},
         "fill": {"field": "group", "type": "nominal", "scale": {"domain": ["Vehicle", "MESM"], "range": ["white", "#CF4ADF"]}, "legend": null}
        }}
      ]
     },
     {
      "width": 292, "height": 59,
      "layer": [
       {"data": {"name": "dBars"}, "mark": {"type": "bar", "stroke": "black", "strokeWidth": 2, "clip": true},
        "encoding": {
         "x": {"field": "metal", "type": "nominal", "scale": {"domain": ["Mg", "Ca", "Fe", "Co", "Cu", "Zn", "Mo"], "paddingInner": 0.37, "paddingOuter": 0.15}, "axis": {"title": null, "labelAngle": 0, "labelPadding": 3}},
         "xOffset": {"field": "group", "type": "nominal", "scale": {"domain": ["Vehicle", "MESM"], "paddingInner": 0.34, "paddingOuter": 0}},
         "y": {"field": "mean", "type": "quantitative", "scale": {"domain": [0, 0.5], "nice": false}, "axis": {"values": [0, 0.2, 0.4, 0.5], "format": ".1f", "labelExpr": "datum.value == 0.5 ? '' : datum.label", "title": null}},
         "y2": {"datum": 0},
         "color": {"field": "group", "type": "nominal", "scale": {"domain": ["Vehicle", "MESM"], "range": ["white", "#EEAAF3"]}, "legend": null}
        }},
       {"data": {"name": "dBars"}, "mark": {"type": "rule", "color": "black", "strokeWidth": 1.3, "clip": true},
        "encoding": {
         "x": {"field": "metal", "type": "nominal", "scale": {"domain": ["Mg", "Ca", "Fe", "Co", "Cu", "Zn", "Mo"], "paddingInner": 0.37, "paddingOuter": 0.15}, "axis": {"title": null, "labelAngle": 0, "labelPadding": 3}},
         "xOffset": {"field": "group", "type": "nominal", "scale": {"domain": ["Vehicle", "MESM"], "paddingInner": 0.34, "paddingOuter": 0}},
         "y": {"field": "lo", "type": "quantitative", "scale": {"domain": [0, 0.5], "nice": false}, "axis": {"values": [0, 0.2, 0.4, 0.5], "format": ".1f", "labelExpr": "datum.value == 0.5 ? '' : datum.label", "title": null}},
         "y2": {"field": "hi"}
        }},
       {"data": {"name": "dBars"}, "mark": {"type": "tick", "color": "black", "thickness": 1.3, "size": 9, "opacity": 1, "clip": true},
        "encoding": {
         "x": {"field": "metal", "type": "nominal", "scale": {"domain": ["Mg", "Ca", "Fe", "Co", "Cu", "Zn", "Mo"], "paddingInner": 0.37, "paddingOuter": 0.15}, "axis": {"title": null, "labelAngle": 0, "labelPadding": 3}},
         "xOffset": {"field": "group", "type": "nominal", "scale": {"domain": ["Vehicle", "MESM"], "paddingInner": 0.34, "paddingOuter": 0}},
         "y": {"field": "lo", "type": "quantitative", "scale": {"domain": [0, 0.5], "nice": false}, "axis": {"values": [0, 0.2, 0.4, 0.5], "format": ".1f", "labelExpr": "datum.value == 0.5 ? '' : datum.label", "title": null}}
        }},
       {"data": {"name": "dBars"}, "mark": {"type": "tick", "color": "black", "thickness": 1.3, "size": 9, "opacity": 1, "clip": true},
        "encoding": {
         "x": {"field": "metal", "type": "nominal", "scale": {"domain": ["Mg", "Ca", "Fe", "Co", "Cu", "Zn", "Mo"], "paddingInner": 0.37, "paddingOuter": 0.15}, "axis": {"title": null, "labelAngle": 0, "labelPadding": 3}},
         "xOffset": {"field": "group", "type": "nominal", "scale": {"domain": ["Vehicle", "MESM"], "paddingInner": 0.34, "paddingOuter": 0}},
         "y": {"field": "hi", "type": "quantitative", "scale": {"domain": [0, 0.5], "nice": false}, "axis": {"values": [0, 0.2, 0.4, 0.5], "format": ".1f", "labelExpr": "datum.value == 0.5 ? '' : datum.label", "title": null}}
        }},
       {"data": {"name": "dPts"}, "transform": [{"filter": "datum.value <= 0.5"}], "mark": {"type": "circle", "size": 75, "stroke": "black", "strokeWidth": 1.3, "opacity": 1},
        "encoding": {
         "x": {"field": "metal", "type": "nominal", "scale": {"domain": ["Mg", "Ca", "Fe", "Co", "Cu", "Zn", "Mo"], "paddingInner": 0.37, "paddingOuter": 0.15}, "axis": {"title": null, "labelAngle": 0, "labelPadding": 3}},
         "xOffset": {"field": "group", "type": "nominal", "scale": {"domain": ["Vehicle", "MESM"], "paddingInner": 0.34, "paddingOuter": 0}},
         "y": {"field": "value", "type": "quantitative", "scale": {"domain": [0, 0.5], "nice": false}, "axis": {"values": [0, 0.2, 0.4, 0.5], "format": ".1f", "labelExpr": "datum.value == 0.5 ? '' : datum.label", "title": null}},
         "fill": {"field": "group", "type": "nominal", "scale": {"domain": ["Vehicle", "MESM"], "range": ["white", "#CF4ADF"]}, "legend": null}
        }}
      ]
     }
    ]
   }
  ],
  "spacing": 26,
  "resolve": {"scale": {"color": "independent", "fill": "independent"}, "legend": {"color": "independent", "fill": "independent"}}
 }
]
}
